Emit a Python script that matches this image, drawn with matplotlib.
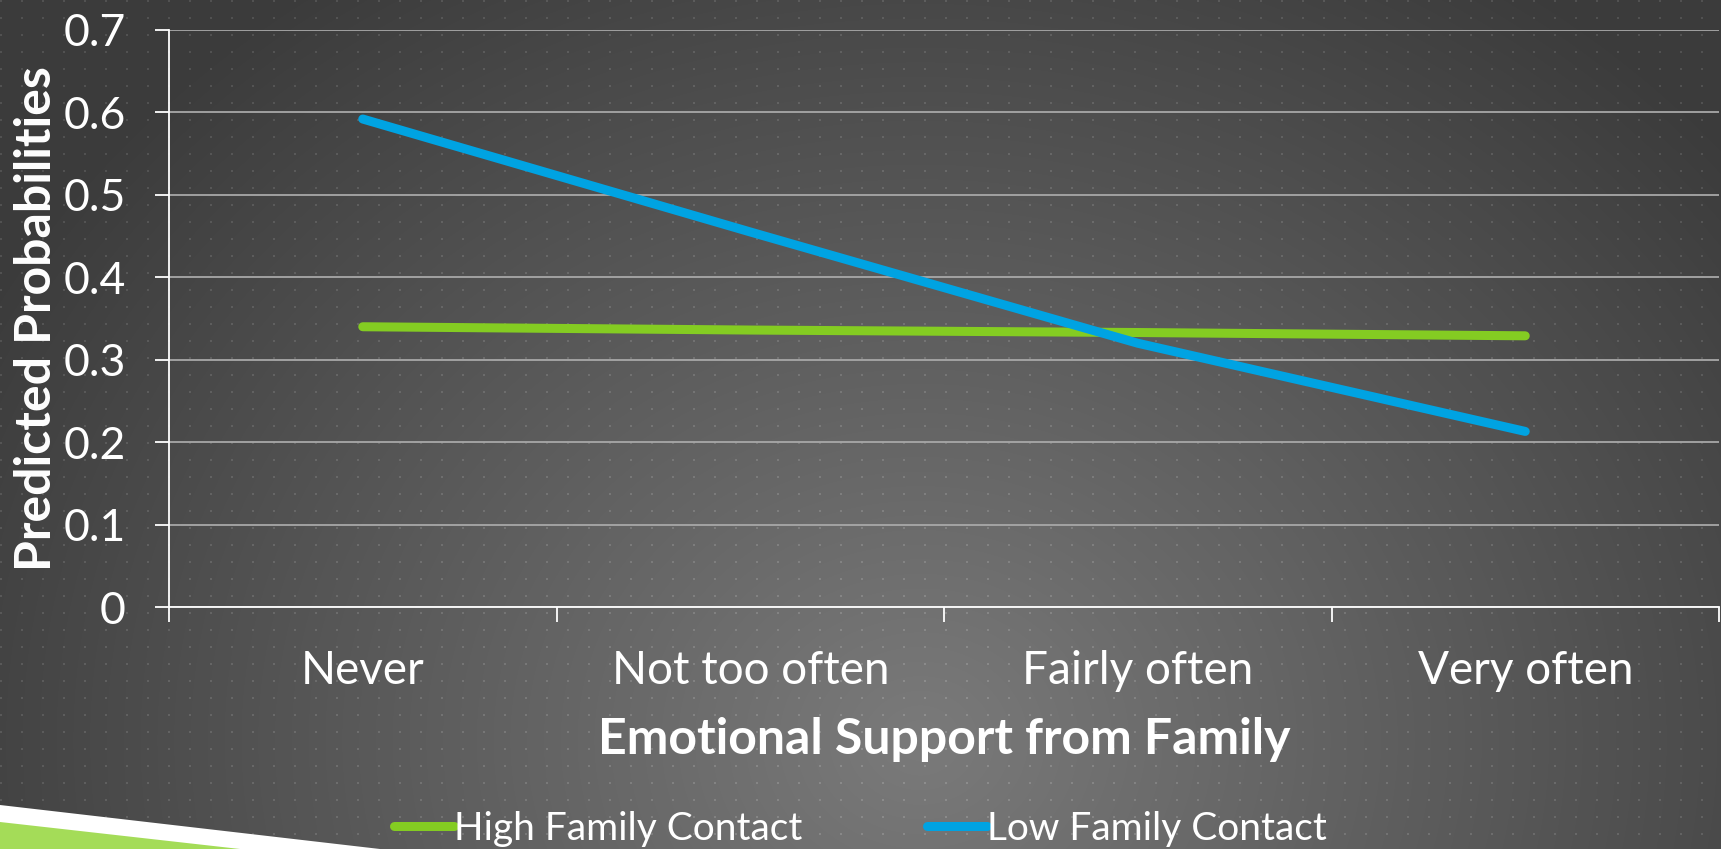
import numpy as np
import matplotlib.pyplot as plt
from matplotlib.patches import Polygon

# dati
categorie = ["Never", "Not too often", "Fairly often", "Very often"]
alto_contatto = [0.340, 0.336, 0.333, 0.329]
basso_contatto = [0.592, 0.455, 0.320, 0.213]
serie_nomi = ["High Family Contact", "Low Family Contact"]
y_ticks = [0, 0.1, 0.2, 0.3, 0.4, 0.5, 0.6, 0.7]
y_labels = ["0", "0.1", "0.2", "0.3", "0.4", "0.5", "0.6", "0.7"]

VERDE = "#84CC22"
BLU = "#00A3E2"
plt.rcParams["font.family"] = ["Lato", "DejaVu Sans"]

W, H = 1721, 849
fig = plt.figure(figsize=(W / 100, H / 100), dpi=100)

# sfondo: gradiente radiale grigio con puntini
bg = fig.add_axes([0, 0, 1, 1])
yy, xx = np.mgrid[0:H, 0:W]
r = np.sqrt((xx - 920.0) ** 2 + ((yy - 740.0) * 1.15) ** 2)
t = np.clip(r / 1050.0, 0, 1)
grigio = 0.48 * (1 - t) + 0.235 * t
puntini = ((xx % 21) < 2) & ((yy % 17) < 2)
grigio = grigio + puntini * 0.085
img = np.dstack([grigio, grigio, grigio])
bg.imshow(img, extent=(0, W, H, 0), aspect="auto", interpolation="nearest")
bg.set_xlim(0, W)
bg.set_ylim(H, 0)
bg.axis("off")
bg.add_patch(Polygon([(0, 805), (380, H), (0, H)], closed=True, color="white", lw=0))
bg.add_patch(Polygon([(0, 822), (240, H), (0, H)], closed=True, color="#A4DC58", lw=0))

# grafico principale
ax = fig.add_axes([169 / W, (H - 607) / H, 1550 / W, 577 / H])
ax.set_facecolor("none")
x = np.arange(len(categorie))
ax.plot(x, alto_contatto, color=VERDE, lw=6.5, solid_capstyle="round", label=serie_nomi[0], zorder=3)
ax.plot(x, basso_contatto, color=BLU, lw=6.5, solid_capstyle="round", label=serie_nomi[1], zorder=4)

ax.set_xlim(-0.5, len(categorie) - 0.5)
ax.set_ylim(0, 0.7)
ax.set_yticks(y_ticks)
ax.set_yticklabels(y_labels)
ax.set_xticks(np.arange(len(categorie) + 1) - 0.5)
ax.set_xticklabels([])
ax.set_xticks(x, minor=True)
ax.set_xticklabels(categorie, minor=True)

ax.grid(axis="y", color="#A8A8A8", lw=1.3)
for s in ["top", "right"]:
    ax.spines[s].set_visible(False)
for s in ["left", "bottom"]:
    ax.spines[s].set_color("white")
    ax.spines[s].set_linewidth(1.3)

ax.tick_params(axis="y", colors="white", length=10, width=1.3, pad=21, labelsize=32)
ax.tick_params(axis="x", which="major", colors="white", length=11, width=1.3)
ax.tick_params(axis="x", which="minor", length=0, pad=31, labelsize=33, labelcolor="white")

ax.set_ylabel("Predicted Probabilities", fontsize=36, fontweight="bold", color="white")
ax.yaxis.set_label_coords(-0.071, 0.5)
ax.set_xlabel("Emotional Support from Family", fontsize=36, fontweight="bold", color="white")
ax.xaxis.set_label_coords(0.5, -0.19)

fig.legend(loc="center", bbox_to_anchor=(0.5, 1 - 829 / H), ncol=2, frameon=False,
           fontsize=28, labelcolor="white", handlelength=1.55, handletextpad=0.0,
           columnspacing=3.2)

fig.savefig("out.png", dpi=100)
